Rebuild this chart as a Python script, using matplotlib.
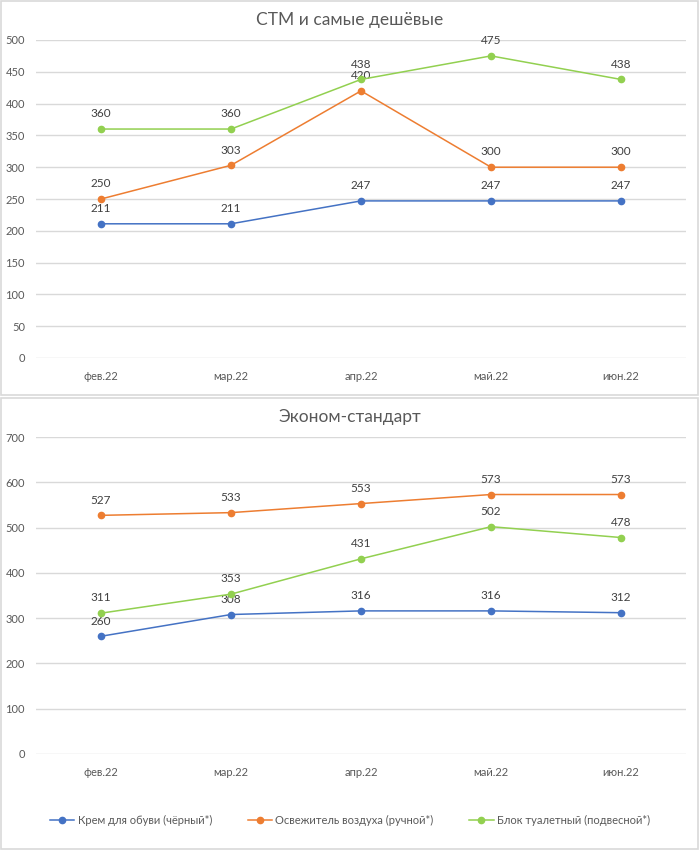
import matplotlib.pyplot as plt
from matplotlib.patches import Rectangle

plt.rcParams['font.family'] = ['Lato', 'DejaVu Sans']

months = ["фев.22", "мар.22", "апр.22", "май.22", "июн.22"]
series_names = ["Крем для обуви (чёрный*)", "Освежитель воздуха (ручной*)", "Блок туалетный (подвесной*)"]
colors = ["#4472C4", "#ED7D31", "#92D050"]

# CTM and cheapest
top_cream = [211, 211, 247, 247, 247]
top_fresh = [250, 303, 420, 300, 300]
top_block = [360, 360, 438, 475, 438]

# economy-standard
bot_cream = [260, 308, 316, 316, 312]
bot_fresh = [527, 533, 553, 573, 573]
bot_block = [311, 353, 431, 502, 478]

W, H = 700, 850
fig = plt.figure(figsize=(7, 8.5), dpi=100)

# panel frames
for y0, y1 in [(1, 395), (398, 849)]:
    fig.patches.append(Rectangle((1 / W, 1 - y1 / H), 697 / W, (y1 - y0) / H,
                                 transform=fig.transFigure, fill=False,
                                 edgecolor="#D9D9D9", linewidth=1.2))


def draw_panel(top_px, bottom_px, title, data, ymax, step):
    ax = fig.add_axes([36 / W, 1 - bottom_px / H, 650 / W, (bottom_px - top_px) / H])
    x = range(len(months))
    lines = []
    for vals, c in zip(data, colors):
        ln, = ax.plot(x, vals, color=c, lw=1.1, marker="o", ms=4.5, zorder=3)
        lines.append(ln)
        for xi, v in zip(x, vals):
            ax.annotate(str(v), (xi, v), xytext=(0, 7), textcoords="offset points",
                        ha="center", va="bottom", fontsize=8.5, color="#404040")
    ax.set_xlim(-0.5, len(months) - 0.5)
    ax.set_ylim(0, ymax)
    ax.set_yticks(range(0, ymax + 1, step))
    ax.set_xticks(list(x))
    ax.set_xticklabels(months)
    ax.grid(axis="y", color="#D9D9D9", lw=1)
    ax.set_axisbelow(True)
    for s in ax.spines.values():
        s.set_visible(False)
    ax.tick_params(length=0, labelsize=8, labelcolor="#595959")
    ax.tick_params(axis="x", pad=9)
    ax.tick_params(axis="y", pad=8)
    fig.text(0.5, 1 - (top_px - 20) / H, title, ha="center", va="center",
             fontsize=12.5, color="#595959")
    return lines


draw_panel(40, 358, "СТМ и самые дешёвые", [top_cream, top_fresh, top_block], 500, 50)
lines = draw_panel(437, 754, "Эконом-стандарт", [bot_cream, bot_fresh, bot_block], 700, 100)

fig.legend(lines, series_names, loc="center", bbox_to_anchor=(0.5, 1 - 820 / H),
           ncol=3, frameon=False, fontsize=8, labelcolor="#595959",
           handlelength=2.2, columnspacing=3.2, handletextpad=0.3)

fig.savefig("out.png", dpi=100)
